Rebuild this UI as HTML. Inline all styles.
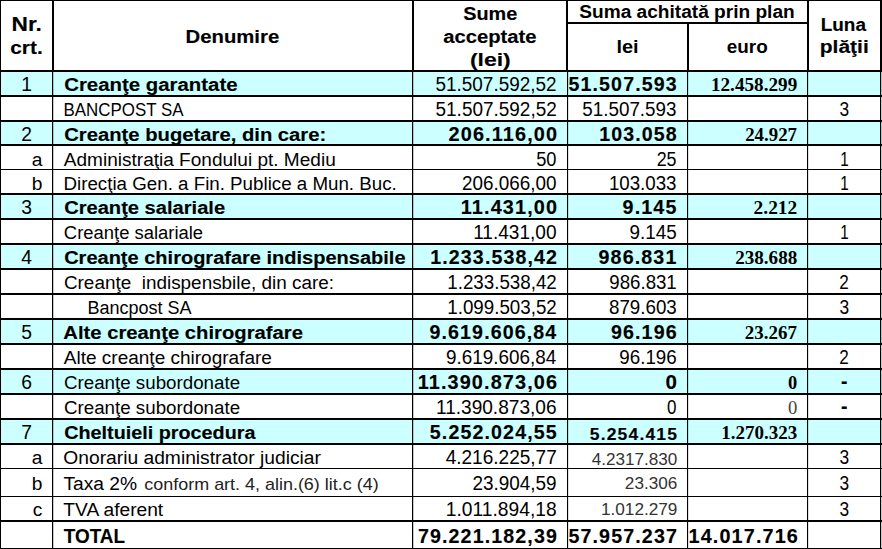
<!DOCTYPE html><html><head><meta charset="utf-8"><title>Tabel</title><style>
html,body{margin:0;padding:0;background:#fff;}
#p{position:relative;width:882px;height:549px;overflow:hidden;background:#fff;font-family:"Liberation Sans",sans-serif;}
.c{position:absolute;left:0;width:882px;background:#ccffff;}
.l{position:absolute;background:#000;}
.t{position:absolute;left:0;white-space:pre;line-height:20px;height:20px;color:#000;transform-origin:0 50%;}.r{transform-origin:100% 50%;}.m{transform-origin:50% 50%;}
.b{font-weight:bold;}.k{-webkit-text-stroke:0.15px #000;}.n{letter-spacing:1.1px;}.s{font-family:"Liberation Serif",serif;}
</style></head><body><div id="p">
<div class="c" style="top:70px;height:25px"></div>
<div class="c" style="top:120px;height:24px"></div>
<div class="c" style="top:193px;height:25px"></div>
<div class="c" style="top:243px;height:25px"></div>
<div class="c" style="top:318px;height:25px"></div>
<div class="c" style="top:368px;height:25px"></div>
<div class="c" style="top:418px;height:25px"></div>
<div class="l" style="left:0px;top:0px;width:1px;height:549px"></div>
<div class="l" style="left:52px;top:0px;width:2px;height:71px"></div>
<div class="l" style="left:412px;top:0px;width:2px;height:71px"></div>
<div class="l" style="left:566px;top:0px;width:2px;height:71px"></div>
<div class="l" style="left:687px;top:22px;width:2px;height:49px"></div>
<div class="l" style="left:807px;top:0px;width:2px;height:71px"></div>
<div class="l" style="left:880px;top:0px;width:2px;height:71px"></div>
<div class="l" style="left:52px;top:71px;width:1px;height:478px"></div>
<div class="l" style="left:53px;top:71px;width:1px;height:478px;background:rgba(0,0,0,.22)"></div>
<div class="l" style="left:412px;top:71px;width:1px;height:478px"></div>
<div class="l" style="left:413px;top:71px;width:1px;height:478px;background:rgba(0,0,0,.22)"></div>
<div class="l" style="left:567px;top:71px;width:1px;height:478px"></div>
<div class="l" style="left:568px;top:71px;width:1px;height:478px;background:rgba(0,0,0,.12)"></div>
<div class="l" style="left:687px;top:71px;width:1px;height:478px"></div>
<div class="l" style="left:688px;top:71px;width:1px;height:478px;background:rgba(0,0,0,.12)"></div>
<div class="l" style="left:807px;top:71px;width:1px;height:478px"></div>
<div class="l" style="left:808px;top:71px;width:1px;height:478px;background:rgba(0,0,0,.12)"></div>
<div class="l" style="left:880px;top:71px;width:1px;height:478px"></div>
<div class="l" style="left:881px;top:71px;width:1px;height:478px;background:rgba(0,0,0,.22)"></div>
<div class="l" style="left:0px;top:0px;width:882px;height:1px"></div>
<div class="l" style="left:566px;top:22px;width:242px;height:2px"></div>
<div class="l" style="left:0px;top:70px;width:882px;height:2px"></div>
<div class="l" style="left:0px;top:95px;width:882px;height:2px"></div>
<div class="l" style="left:0px;top:120px;width:882px;height:2px"></div>
<div class="l" style="left:0px;top:144px;width:882px;height:2px"></div>
<div class="l" style="left:0px;top:169px;width:882px;height:1px"></div>
<div class="l" style="left:0px;top:193px;width:882px;height:2px"></div>
<div class="l" style="left:0px;top:218px;width:882px;height:2px"></div>
<div class="l" style="left:0px;top:243px;width:882px;height:2px"></div>
<div class="l" style="left:0px;top:268px;width:882px;height:2px"></div>
<div class="l" style="left:0px;top:293px;width:882px;height:2px"></div>
<div class="l" style="left:0px;top:318px;width:882px;height:2px"></div>
<div class="l" style="left:0px;top:343px;width:882px;height:2px"></div>
<div class="l" style="left:0px;top:368px;width:882px;height:2px"></div>
<div class="l" style="left:0px;top:393px;width:882px;height:2px"></div>
<div class="l" style="left:0px;top:418px;width:882px;height:2px"></div>
<div class="l" style="left:0px;top:443px;width:882px;height:2px"></div>
<div class="l" style="left:0px;top:468px;width:882px;height:1px"></div>
<div class="l" style="left:0px;top:496px;width:882px;height:1px"></div>
<div class="l" style="left:0px;top:520px;width:882px;height:2px"></div>
<div class="l" style="left:0px;top:548px;width:882px;height:1px"></div>
<span class="t b k m" style="top:15px;font-size:19.3px;transform:translateX(26.72px) translateX(-50%) scaleX(1.1758);">Nr.</span>
<span class="t b k m" style="top:38px;font-size:19.2px;transform:translateX(26.45px) translateX(-50%) scaleX(1.0865);">crt.</span>
<span class="t b k m" style="top:27px;font-size:19.2px;transform:translateX(232.38px) translateX(-50%) scaleX(1.0573);">Denumire</span>
<span class="t b k m" style="top:4px;font-size:19.2px;transform:translateX(490.18px) translateX(-50%) scaleX(1.0347);">Sume</span>
<span class="t b k m" style="top:27px;font-size:19.2px;transform:translateX(489.88px) translateX(-50%) scaleX(1.0541);">acceptate</span>
<span class="t b k m" style="top:50px;font-size:19.2px;transform:translateX(490.33px) translateX(-50%) scaleX(1.1953);">(lei)</span>
<span class="t b m" style="top:2px;font-size:18.7px;transform:translateX(687.00px) translateX(-50%) scaleX(1.0215);">Suma achitată prin plan</span>
<span class="t b m" style="top:37px;font-size:18.7px;transform:translateX(627.48px) translateX(-50%) scaleX(1.0685);">lei</span>
<span class="t b m" style="top:37px;font-size:18.7px;transform:translateX(747.30px) translateX(-50%) scaleX(1.0103);">euro</span>
<span class="t b k m" style="top:15px;font-size:19.2px;transform:translateX(843.30px) translateX(-50%) scaleX(0.9868);">Luna</span>
<span class="t b k m" style="top:37px;font-size:19.2px;transform:translateX(844.25px) translateX(-50%) scaleX(1.0937);">plăţii</span>
<span class="t m" style="top:75px;font-size:19.3px;transform:translateX(26.50px) translateX(-50%);">1</span>
<span class="t m" style="top:125px;font-size:19.3px;transform:translateX(26.50px) translateX(-50%);">2</span>
<span class="t r" style="top:150px;font-size:19.2px;transform:translateX(42.30px) translateX(-100%);">a</span>
<span class="t r" style="top:174px;font-size:19.2px;transform:translateX(42.30px) translateX(-100%);">b</span>
<span class="t m" style="top:198px;font-size:19.3px;transform:translateX(26.50px) translateX(-50%);">3</span>
<span class="t m" style="top:248px;font-size:19.3px;transform:translateX(26.50px) translateX(-50%);">4</span>
<span class="t m" style="top:323px;font-size:19.3px;transform:translateX(26.50px) translateX(-50%);">5</span>
<span class="t m" style="top:373px;font-size:19.3px;transform:translateX(26.50px) translateX(-50%);">6</span>
<span class="t m" style="top:423px;font-size:19.3px;transform:translateX(26.50px) translateX(-50%);">7</span>
<span class="t r" style="top:448px;font-size:19.2px;transform:translateX(42.30px) translateX(-100%);">a</span>
<span class="t r" style="top:474px;font-size:19.2px;transform:translateX(42.30px) translateX(-100%);">b</span>
<span class="t r" style="top:500px;font-size:19.2px;transform:translateX(42.30px) translateX(-100%);">c</span>
<span class="t b k" style="top:75px;font-size:19.2px;transform:translateX(64.15px) scaleX(1.0629);">Creanţe garantate</span>
<span class="t" style="top:100px;font-size:19.2px;transform:translateX(63.50px) scaleX(0.8810);">BANCPOST SA</span>
<span class="t b k" style="top:125px;font-size:19.2px;transform:translateX(64.25px) scaleX(1.0545);">Creanţe bugetare, din care:</span>
<span class="t" style="top:150px;font-size:19.2px;transform:translateX(63.80px) scaleX(0.9921);">Administraţia Fondului pt. Mediu</span>
<span class="t" style="top:174px;font-size:19.2px;transform:translateX(63.50px) scaleX(0.9766);">Direcţia Gen. a Fin. Publice a Mun. Buc.</span>
<span class="t b k" style="top:198px;font-size:19.2px;transform:translateX(64.15px) scaleX(1.0478);">Creanţe salariale</span>
<span class="t" style="top:223px;font-size:19.2px;transform:translateX(63.85px) scaleX(0.9598);">Creanţe salariale</span>
<span class="t b k" style="top:248px;font-size:19.2px;transform:translateX(64.15px) scaleX(1.0429);">Creanţe chirografare indispensabile</span>
<span class="t" style="top:273px;font-size:19.2px;transform:translateX(63.90px) scaleX(0.9857);">Creanţe  indispensbile, din care:</span>
<span class="t" style="top:298px;font-size:19.2px;transform:translateX(87.40px) scaleX(0.9387);">Bancpost SA</span>
<span class="t b k" style="top:323px;font-size:19.2px;transform:translateX(63.30px) scaleX(1.0549);">Alte creanţe chirografare</span>
<span class="t" style="top:348px;font-size:19.2px;transform:translateX(63.80px) scaleX(0.9905);">Alte creanţe chirografare</span>
<span class="t" style="top:373px;font-size:19.2px;transform:translateX(64.00px) scaleX(0.9766);">Creanţe subordonate</span>
<span class="t" style="top:398px;font-size:19.2px;transform:translateX(64.00px) scaleX(0.9766);">Creanţe subordonate</span>
<span class="t b k" style="top:423px;font-size:19.2px;transform:translateX(64.25px) scaleX(1.0306);">Cheltuieli procedura</span>
<span class="t" style="top:448px;font-size:19.2px;transform:translateX(63.30px) scaleX(1.0023);">Onorariu administrator judiciar</span>
<span class="t" style="top:500px;font-size:19.2px;transform:translateX(63.30px);">TVA aferent</span>
<span class="t b k" style="top:527px;font-size:19.3px;transform:translateX(63.75px) scaleX(0.9798);">TOTAL</span>
<span class="t" style="top:474px;font-size:19.2px;transform:translateX(63.40px) scaleX(1.0021);">Taxa 2%</span>
<span class="t" style="top:475px;font-size:16.6px;color:#222;transform:translateX(144.35px) scaleX(1.0810);">conform art. 4, alin.(6) lit.c (4)</span>
<span class="t r" style="top:75px;font-size:19.3px;transform:translateX(556.60px) translateX(-100%) scaleX(0.9824);">51.507.592,52</span>
<span class="t r" style="top:100px;font-size:19.3px;transform:translateX(556.75px) translateX(-100%) scaleX(0.9830);">51.507.592,52</span>
<span class="t b k n r" style="top:125px;font-size:19.3px;transform:translateX(558.20px) translateX(-100%) scaleX(1.0306);">206.116,00</span>
<span class="t r" style="top:150px;font-size:19.3px;transform:translateX(556.45px) translateX(-100%) scaleX(0.9468);">50</span>
<span class="t r" style="top:174px;font-size:19.3px;transform:translateX(556.40px) translateX(-100%) scaleX(0.9788);">206.066,00</span>
<span class="t b k n r" style="top:198px;font-size:19.3px;transform:translateX(558.15px) translateX(-100%) scaleX(1.0295);">11.431,00</span>
<span class="t r" style="top:223px;font-size:19.3px;transform:translateX(556.50px) translateX(-100%) scaleX(0.9879);">11.431,00</span>
<span class="t b k n r" style="top:248px;font-size:19.3px;transform:translateX(558.05px) translateX(-100%) scaleX(1.0158);">1.233.538,42</span>
<span class="t r" style="top:273px;font-size:19.3px;transform:translateX(556.75px) translateX(-100%) scaleX(0.9724);">1.233.538,42</span>
<span class="t r" style="top:298px;font-size:19.3px;transform:translateX(556.75px) translateX(-100%) scaleX(0.9724);">1.099.503,52</span>
<span class="t b k n r" style="top:323px;font-size:19.3px;transform:translateX(557.40px) translateX(-100%) scaleX(1.0172);">9.619.606,84</span>
<span class="t r" style="top:348px;font-size:19.3px;transform:translateX(556.25px) translateX(-100%) scaleX(0.9792);">9.619.606,84</span>
<span class="t b k n r" style="top:373px;font-size:19.3px;transform:translateX(558.15px) translateX(-100%) scaleX(1.0290);">11.390.873,06</span>
<span class="t r" style="top:398px;font-size:19.3px;transform:translateX(556.50px) translateX(-100%) scaleX(0.9892);">11.390.873,06</span>
<span class="t b k n r" style="top:423px;font-size:19.3px;transform:translateX(557.80px) translateX(-100%) scaleX(1.0174);">5.252.024,55</span>
<span class="t r" style="top:448px;font-size:19.3px;transform:translateX(556.75px) translateX(-100%) scaleX(0.9866);">4.216.225,77</span>
<span class="t r" style="top:474px;font-size:19.3px;transform:translateX(556.65px) translateX(-100%) scaleX(0.9820);">23.904,59</span>
<span class="t r" style="top:500px;font-size:19.3px;transform:translateX(556.60px) translateX(-100%) scaleX(0.9965);">1.011.894,18</span>
<span class="t b k n r" style="top:527px;font-size:19.3px;transform:translateX(558.00px) translateX(-100%) scaleX(1.0177);">79.221.182,39</span>
<span class="t b k n r" style="top:75px;font-size:19.3px;transform:translateX(677.75px) translateX(-100%) scaleX(1.0158);">51.507.593</span>
<span class="t r" style="top:100px;font-size:19.3px;transform:translateX(676.50px) translateX(-100%) scaleX(0.9757);">51.507.593</span>
<span class="t b k n r" style="top:125px;font-size:19.3px;transform:translateX(677.75px) translateX(-100%) scaleX(1.0148);">103.058</span>
<span class="t r" style="top:150px;font-size:19.3px;transform:translateX(676.55px) translateX(-100%) scaleX(0.9266);">25</span>
<span class="t r" style="top:174px;font-size:19.3px;transform:translateX(676.50px) translateX(-100%) scaleX(0.9700);">103.033</span>
<span class="t b k n r" style="top:198px;font-size:19.3px;transform:translateX(677.50px) translateX(-100%) scaleX(1.0211);">9.145</span>
<span class="t r" style="top:223px;font-size:19.3px;transform:translateX(676.75px) translateX(-100%) scaleX(0.9772);">9.145</span>
<span class="t b k n r" style="top:248px;font-size:19.3px;transform:translateX(677.50px) translateX(-100%) scaleX(1.0205);">986.831</span>
<span class="t r" style="top:273px;font-size:19.3px;transform:translateX(676.75px) translateX(-100%) scaleX(0.9673);">986.831</span>
<span class="t r" style="top:298px;font-size:19.3px;transform:translateX(676.75px) translateX(-100%) scaleX(0.9722);">879.603</span>
<span class="t b k n r" style="top:323px;font-size:19.3px;transform:translateX(677.75px) translateX(-100%) scaleX(1.0193);">96.196</span>
<span class="t r" style="top:348px;font-size:19.3px;transform:translateX(676.75px) translateX(-100%) scaleX(0.9742);">96.196</span>
<span class="t b k n r" style="top:373px;font-size:19.3px;transform:translateX(678.00px) translateX(-100%) scaleX(1.0671);">0</span>
<span class="t r" style="top:398px;font-size:19.3px;transform:translateX(676.50px) translateX(-100%) scaleX(0.8822);">0</span>
<span class="t b k n r" style="top:424px;font-size:16.5px;transform:translateX(678.10px) translateX(-100%) scaleX(1.0597);">5.254.415</span>
<span class="t r" style="top:449px;font-size:16.5px;color:#333;transform:translateX(677.40px) translateX(-100%) scaleX(1.0369);">4.2317.830</span>
<span class="t r" style="top:473px;font-size:16.5px;color:#333;transform:translateX(677.30px) translateX(-100%) scaleX(1.0395);">23.306</span>
<span class="t r" style="top:499px;font-size:16.5px;color:#333;transform:translateX(677.40px) translateX(-100%) scaleX(1.0419);">1.012.279</span>
<span class="t b k n r" style="top:527px;font-size:19.3px;transform:translateX(678.00px) translateX(-100%) scaleX(1.0189);">57.957.237</span>
<span class="t b s r" style="top:75px;font-size:17.8px;transform:translateX(797.25px) translateX(-100%) scaleX(1.0793);">12.458.299</span>
<span class="t b s r" style="top:125px;font-size:17.8px;transform:translateX(797.00px) translateX(-100%) scaleX(1.0593);">24.927</span>
<span class="t b s r" style="top:198px;font-size:17.8px;transform:translateX(797.25px) translateX(-100%) scaleX(1.0907);">2.212</span>
<span class="t b s r" style="top:248px;font-size:17.8px;transform:translateX(797.25px) translateX(-100%) scaleX(1.0743);">238.688</span>
<span class="t b s r" style="top:323px;font-size:17.8px;transform:translateX(797.00px) translateX(-100%) scaleX(1.0662);">23.267</span>
<span class="t b s r" style="top:373px;font-size:17.8px;transform:translateX(797.25px) translateX(-100%) scaleX(1.0363);">0</span>
<span class="t b s r" style="top:423px;font-size:17.8px;transform:translateX(797.25px) translateX(-100%) scaleX(1.0693);">1.270.323</span>
<span class="t s r" style="top:398px;font-size:17.8px;color:#444;transform:translateX(797.25px) translateX(-100%) scaleX(1.0489);">0</span>
<span class="t b k n" style="top:527px;font-size:19.3px;transform:translateX(688.60px) scaleX(1.0260);">14.017.716</span>
<span class="t m" style="top:100px;font-size:19.3px;transform:translateX(844.25px) translateX(-50%) scaleX(0.8998);">3</span>
<span class="t m" style="top:150px;font-size:19.3px;transform:translateX(844.45px) translateX(-50%) scaleX(0.7920);">1</span>
<span class="t m" style="top:174px;font-size:19.3px;transform:translateX(844.45px) translateX(-50%) scaleX(0.7920);">1</span>
<span class="t m" style="top:223px;font-size:19.3px;transform:translateX(844.45px) translateX(-50%) scaleX(0.7920);">1</span>
<span class="t m" style="top:273px;font-size:19.3px;transform:translateX(844.00px) translateX(-50%) scaleX(0.8889);">2</span>
<span class="t m" style="top:298px;font-size:19.3px;transform:translateX(844.25px) translateX(-50%) scaleX(0.8998);">3</span>
<span class="t m" style="top:348px;font-size:19.3px;transform:translateX(844.00px) translateX(-50%) scaleX(0.8889);">2</span>
<span class="t b k m" style="top:372px;font-size:19.3px;transform:translateX(844.10px) translateX(-50%) scaleX(1.0006);">-</span>
<span class="t b k m" style="top:397px;font-size:19.3px;transform:translateX(844.10px) translateX(-50%) scaleX(1.0006);">-</span>
<span class="t m" style="top:448px;font-size:19.3px;transform:translateX(844.25px) translateX(-50%) scaleX(0.8998);">3</span>
<span class="t m" style="top:474px;font-size:19.3px;transform:translateX(844.25px) translateX(-50%) scaleX(0.8998);">3</span>
<span class="t m" style="top:500px;font-size:19.3px;transform:translateX(844.25px) translateX(-50%) scaleX(0.8998);">3</span>
</div></body></html>
